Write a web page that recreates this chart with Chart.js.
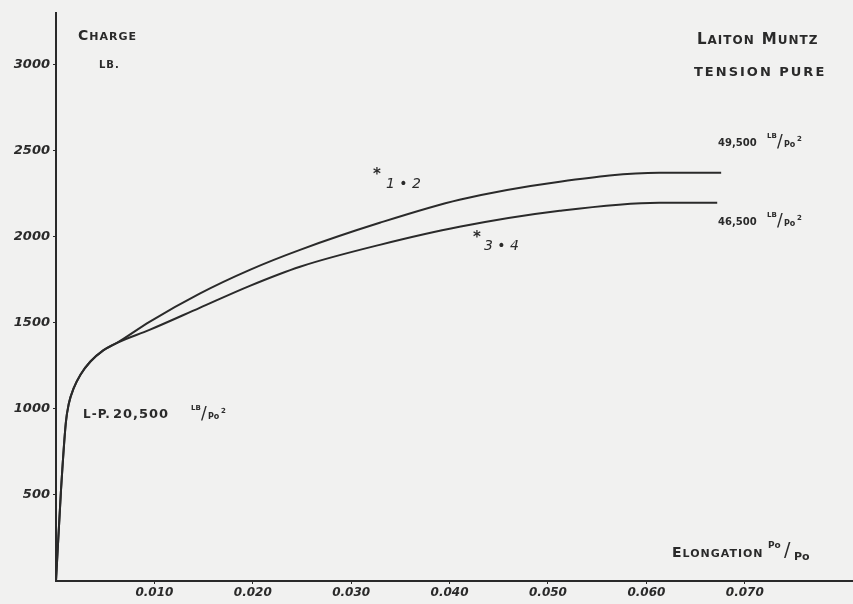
<!DOCTYPE html>
<html>
<head>
<meta charset="utf-8">
<script src="https://cdn.jsdelivr.net/npm/chart.js@4"></script>
<style>
  html, body { margin: 0; padding: 0; background: #f1f1f0; }
  #wrap { width: 853px; height: 604px; }
</style>
</head>
<body>
<div id="wrap"><canvas id="chart" width="853" height="604"></canvas></div>
<script>
// ================================
// LAITON MUNTZ - TENSION PURE
// ================================

// courbe *1 + 2 (elongation Po/Po, charge LB.)
const elongation12 = [0, 0.0005, 0.0010, 0.0013, 0.0018, 0.0025, 0.0035, 0.0048, 0.0062,
  0.0095, 0.0146, 0.0197, 0.0248, 0.0329, 0.0410, 0.0512, 0.0613, 0.0676];
const charge12 = [0, 520, 920, 1030, 1120, 1200, 1275, 1340, 1384,
  1506, 1670, 1808, 1924, 2081, 2215, 2320, 2372, 2372];

// courbe *3 + 4
const elongation34 = [0, 0.0005, 0.0010, 0.0013, 0.0018, 0.0025, 0.0035, 0.0048, 0.0062,
  0.0095, 0.0146, 0.0197, 0.0248, 0.0329, 0.0410, 0.0512, 0.0613, 0.0672];
const charge34 = [0, 520, 920, 1030, 1120, 1200, 1275, 1340, 1384,
  1459, 1587, 1715, 1826, 1953, 2058, 2151, 2198, 2198];

// graduations
const xTicks = [0.010, 0.020, 0.030, 0.040, 0.050, 0.060, 0.070];
const xTickLabels = ["0.010", "0.020", "0.030", "0.040", "0.050", "0.060", "0.070"];
const yTicks = [500, 1000, 1500, 2000, 2500, 3000];
const yTickLabels = ["500", "1000", "1500", "2000", "2500", "3000"];

const ink = "#2a2a2a";
const toPoints = (xs, ys) => xs.map((x, i) => ({ x: x, y: ys[i] }));

// texte en petites capitales (grande initiale)
function capsText(ctx, str, x, y, big, small, gap) {
  let cx = x;
  for (const word of str.split(" ")) {
    ctx.font = "bold " + big + "px 'DejaVu Sans'";
    ctx.fillText(word[0], cx, y);
    cx += ctx.measureText(word[0]).width;
    ctx.font = "bold " + small + "px 'DejaVu Sans'";
    ctx.fillText(word.slice(1), cx, y + (big - small) * 0.35);
    cx += ctx.measureText(word.slice(1)).width + gap;
  }
}

// LB / Po²
function unitText(ctx, x, y) {
  ctx.font = "bold 7px 'DejaVu Sans'";
  ctx.fillText("LB", x, y - 5);
  ctx.font = "17px 'DejaVu Sans'";
  ctx.fillText("/", x + 10, y + 2);
  ctx.font = "bold 8px 'DejaVu Sans'";
  ctx.fillText("Po", x + 17, y + 4);
  ctx.font = "bold 7px 'DejaVu Sans'";
  ctx.fillText("2", x + 30, y - 2);
}

const labelsPlugin = {
  id: "labels",
  afterDraw(chart) {
    const ctx = chart.ctx;
    ctx.save();
    ctx.fillStyle = ink;
    ctx.textBaseline = "middle";
    ctx.textAlign = "left";
    ctx.letterSpacing = "1px";

    capsText(ctx, "CHARGE", 78, 36, 14, 11, 0);
    ctx.font = "bold 10px 'DejaVu Sans'";
    ctx.fillText("LB.", 99, 65);

    capsText(ctx, "LAITON MUNTZ", 697, 40, 15, 12, 7);
    ctx.letterSpacing = "2px";
    ctx.font = "bold 13px 'DejaVu Sans'";
    ctx.fillText("TENSION PURE", 694, 73);
    ctx.letterSpacing = "0px";

    // charges de rupture
    ctx.font = "bold 10px 'DejaVu Sans'";
    ctx.fillText("49,500", 718, 143);
    unitText(ctx, 767, 141);
    ctx.font = "bold 10px 'DejaVu Sans'";
    ctx.fillText("46,500", 718, 222);
    unitText(ctx, 767, 220);

    // limite de proportionnalite
    ctx.letterSpacing = "1px";
    ctx.font = "bold 12px 'DejaVu Sans'";
    ctx.fillText("L-P.", 83, 415);
    ctx.font = "bold 13px 'DejaVu Sans'";
    ctx.fillText("20,500", 113, 415);
    ctx.letterSpacing = "0px";
    unitText(ctx, 191, 413);

    // repères des courbes
    ctx.font = "bold 15px 'DejaVu Sans'";
    ctx.fillText("*", 373, 175);
    ctx.font = "italic 14px 'DejaVu Sans'";
    ctx.fillText("1 • 2", 386, 184);
    ctx.font = "bold 15px 'DejaVu Sans'";
    ctx.fillText("*", 473, 238);
    ctx.font = "italic 14px 'DejaVu Sans'";
    ctx.fillText("3 • 4", 484, 246);

    ctx.letterSpacing = "1px";
    capsText(ctx, "ELONGATION", 672, 553, 14, 11, 0);
    ctx.letterSpacing = "0px";
    ctx.font = "bold 9px 'DejaVu Sans'";
    ctx.fillText("Po", 768, 546);
    ctx.font = "19px 'DejaVu Sans'";
    ctx.fillText("/", 784, 551);
    ctx.font = "bold 11px 'DejaVu Sans'";
    ctx.fillText("Po", 794, 557);
    ctx.restore();
  }
};

const bgPlugin = {
  id: "bg",
  beforeDraw(chart) {
    const ctx = chart.ctx;
    ctx.save();
    ctx.fillStyle = "#f1f1f0";
    ctx.fillRect(0, 0, chart.width, chart.height);
    ctx.restore();
  }
};

const lineStyle = {
  borderColor: ink,
  borderWidth: 2,
  pointRadius: 0,
  showLine: true,
  fill: false,
  cubicInterpolationMode: "monotone"
};

new Chart(document.getElementById("chart").getContext("2d"), {
  type: "scatter",
  data: {
    datasets: [
      Object.assign({ label: "*1 + 2", data: toPoints(elongation12, charge12) }, lineStyle),
      Object.assign({ label: "*3 + 4", data: toPoints(elongation34, charge34) }, lineStyle)
    ]
  },
  options: {
    responsive: false,
    animation: false,
    layout: { padding: { top: 13, right: 0, left: 0, bottom: 0 } },
    plugins: { legend: { display: false }, tooltip: { enabled: false } },
    scales: {
      x: {
        type: "linear",
        min: 0,
        max: 0.081,
        afterBuildTicks(scale) { scale.ticks = xTicks.map(v => ({ value: v })); },
        afterFit(scale) { scale.height = 23; },
        grid: { drawOnChartArea: false, drawTicks: true, tickLength: 3, color: ink, lineWidth: 1 },
        border: { color: ink, width: 2 },
        ticks: {
          padding: 2,
          maxRotation: 0,
          autoSkip: false,
          color: ink,
          font: { family: "DejaVu Sans", size: 12, weight: "bold", style: "italic" },
          callback: (v) => xTickLabels[xTicks.indexOf(v)]
        }
      },
      y: {
        type: "linear",
        min: 0,
        max: 3300,
        afterBuildTicks(scale) { scale.ticks = yTicks.map(v => ({ value: v })); },
        afterFit(scale) { scale.width = 56; },
        grid: { drawOnChartArea: false, drawTicks: true, tickLength: 3, color: ink, lineWidth: 1 },
        border: { color: ink, width: 2 },
        ticks: {
          padding: 3,
          autoSkip: false,
          color: ink,
          font: { family: "DejaVu Sans", size: 13, weight: "bold", style: "italic" },
          callback: (v) => yTickLabels[yTicks.indexOf(v)]
        }
      }
    }
  },
  plugins: [bgPlugin, labelsPlugin]
});
</script>
</body>
</html>
